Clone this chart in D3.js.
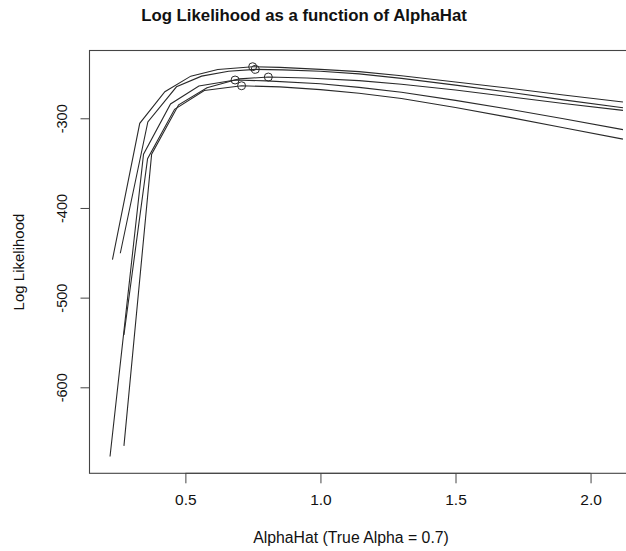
<!DOCTYPE html>
<html>
<head>
<meta charset="utf-8">
<script src="https://cdn.jsdelivr.net/npm/d3@7"></script>
<style>
  html, body { margin: 0; padding: 0; background: #fff; }
  svg { display: block; }
</style>
</head>
<body>
<svg id="chart" width="626" height="551"></svg>
<script>
// Log-likelihood curves for five simulated samples, evaluated over a grid of alpha values.
const alpha1 = [0.230, 0.331, 0.424, 0.52, 0.62, 0.749, 0.85, 1.0, 1.143, 1.3, 1.5, 1.7, 1.9, 2.12];
const logLik1 = [-457.6, -305.6, -270.3, -253, -245.5, -242.5, -243.2, -245.5, -248, -252.5, -259.5, -266.5, -274, -281.8];

const alpha2 = [0.259, 0.361, 0.467, 0.56, 0.66, 0.759, 0.86, 1.0, 1.143, 1.3, 1.5, 1.7, 1.9, 2.12];
const logLik2 = [-450.5, -304, -264.9, -253, -247.5, -245.4, -246, -247.5, -250.5, -255.5, -263, -271, -279.5, -288.3];

const alpha3 = [0.2725, 0.375, 0.475, 0.58, 0.7, 0.807, 0.95, 1.143, 1.3, 1.5, 1.7, 1.9, 2.12];
const logLik3 = [-665.3, -340, -285, -266, -256, -254, -255, -258, -262, -268.5, -276, -283.5, -291.2];

const alpha4 = [0.221, 0.345, 0.445, 0.55, 0.684, 0.8, 1.0, 1.143, 1.3, 1.5, 1.7, 1.9, 2.12];
const logLik4 = [-677.2, -340, -284, -264, -257.3, -258.3, -261.5, -265.5, -271, -280, -290, -300.5, -312.6];

const alpha5 = [0.2725, 0.36, 0.46, 0.57, 0.708, 0.85, 1.0, 1.143, 1.3, 1.5, 1.7, 1.9, 2.12];
const logLik5 = [-541.6, -345, -290, -269, -263.7, -265, -268, -272, -278, -288, -299, -310.5, -323.2];

// Maximum-likelihood estimate for each sample (marked with an open circle)
const mleAlpha = [0.749, 0.759, 0.807, 0.684, 0.708];
const mleLogLik = [-242.5, -245.4, -254.0, -257.3, -263.7];

const xTicks = [0.5, 1.0, 1.5, 2.0];
const yTicks = [-600, -500, -400, -300];

const titleText = "Log Likelihood as a function of AlphaHat";
const xLabel = "AlphaHat (True Alpha = 0.7)";
const yLabel = "Log Likelihood";

const series = [
  { a: alpha1, l: logLik1 },
  { a: alpha2, l: logLik2 },
  { a: alpha3, l: logLik3 },
  { a: alpha4, l: logLik4 },
  { a: alpha5, l: logLik5 }
];

const FONT = "'Liberation Sans', Arial, Helvetica, sans-serif";
const INK = "#2a2a2a";
const svg = d3.select("#chart");
const W = 626, H = 551;
const plot = { left: 89.5, right: 643.5, top: 50.5, bottom: 473.3 };

svg.append("rect").attr("width", W).attr("height", H).attr("fill", "#fff");

const x = d3.scaleLinear().domain([0.145, 2.196]).range([plot.left, plot.right]);
const y = d3.scaleLinear().domain([-695.9, -224.4]).range([plot.bottom, plot.top]);

svg.append("defs").append("clipPath").attr("id", "plotClip")
  .append("rect")
  .attr("x", plot.left).attr("y", plot.top)
  .attr("width", plot.right - plot.left).attr("height", plot.bottom - plot.top);

const line = d3.line().x(d => x(d[0])).y(d => y(d[1]));

const g = svg.append("g").attr("clip-path", "url(#plotClip)");
series.forEach(s => {
  g.append("path")
    .datum(s.a.map((a, i) => [a, s.l[i]]))
    .attr("d", line)
    .attr("fill", "none")
    .attr("stroke", INK)
    .attr("stroke-width", 1.1);
});

g.selectAll("circle.mle")
  .data(mleAlpha.map((a, i) => [a, mleLogLik[i]]))
  .join("circle")
  .attr("class", "mle")
  .attr("cx", d => x(d[0]))
  .attr("cy", d => y(d[1]))
  .attr("r", 4)
  .attr("fill", "none")
  .attr("stroke", INK)
  .attr("stroke-width", 1);

// Plot frame
svg.append("rect")
  .attr("x", plot.left).attr("y", plot.top)
  .attr("width", plot.right - plot.left).attr("height", plot.bottom - plot.top)
  .attr("fill", "none").attr("stroke", "#444").attr("stroke-width", 1.1);

// Axes
const xAxis = d3.axisBottom(x).tickValues(xTicks).tickFormat(d3.format(".1f"))
  .tickSize(10).tickPadding(11);
const gx = svg.append("g").attr("transform", `translate(0,${plot.bottom})`).call(xAxis);
gx.select(".domain").attr("d", `M${x(xTicks[0])},0H${x(xTicks[xTicks.length - 1])}`)
  .attr("stroke", "#444");
gx.selectAll(".tick line").attr("stroke", "#444");
gx.selectAll(".tick text")
  .style("font-family", FONT).style("font-size", "15.5px").style("fill", "#111");

const yAxis = d3.axisLeft(y).tickValues(yTicks).tickFormat(d => String(d))
  .tickSize(9).tickPadding(0);
const gy = svg.append("g").attr("transform", `translate(${plot.left},0)`).call(yAxis);
gy.select(".domain").attr("d", `M0,${y(yTicks[0])}V${y(yTicks[yTicks.length - 1])}`)
  .attr("stroke", "#444");
gy.selectAll(".tick line").attr("stroke", "#444");
gy.selectAll(".tick text")
  .attr("x", null).attr("dy", null)
  .attr("text-anchor", "middle")
  .attr("transform", "translate(-23,0) rotate(-90)")
  .style("font-family", FONT).style("font-size", "14.5px").style("fill", "#111");

// Titles
svg.append("text")
  .attr("x", 304).attr("y", 21)
  .attr("text-anchor", "middle")
  .style("font-family", FONT).style("font-weight", "bold").style("font-size", "16.8px")
  .style("fill", "#111")
  .text(titleText);

svg.append("text")
  .attr("x", 351).attr("y", 543)
  .attr("text-anchor", "middle")
  .style("font-family", FONT).style("font-size", "15.8px").style("fill", "#111")
  .text(xLabel);

svg.append("text")
  .attr("transform", "translate(24,262) rotate(-90)")
  .attr("text-anchor", "middle")
  .style("font-family", FONT).style("font-size", "15px").style("fill", "#111")
  .text(yLabel);
</script>
</body>
</html>
